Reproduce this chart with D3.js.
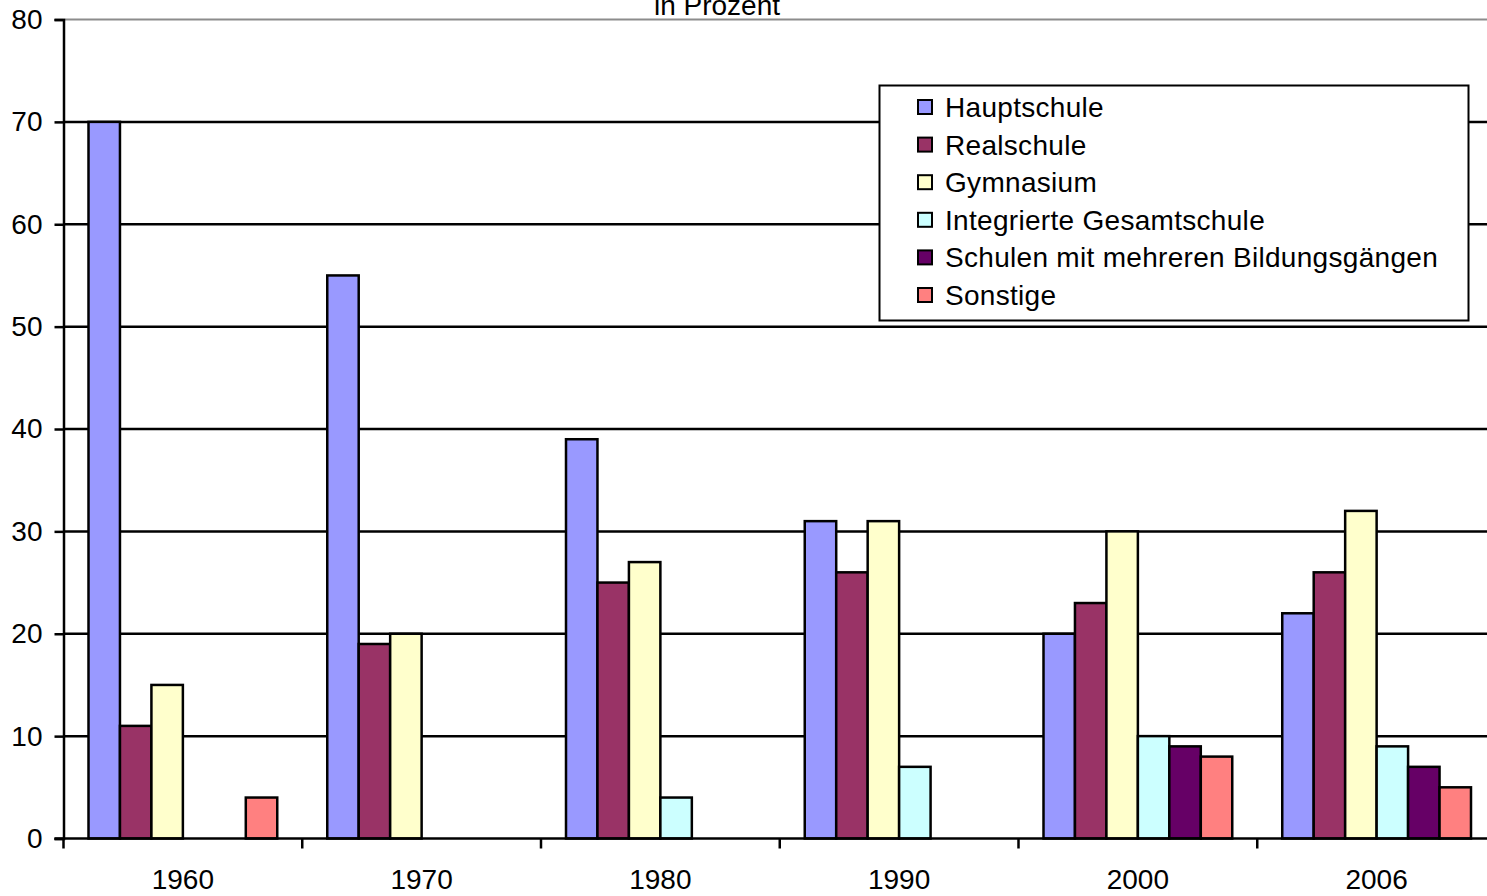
<!DOCTYPE html>
<html>
<head>
<meta charset="utf-8">
<script src="https://cdn.jsdelivr.net/npm/d3@7/dist/d3.min.js"></script>
<style>
  html, body { margin: 0; padding: 0; background: #fff; overflow: hidden; }
  svg { display: block; font-family: "Liberation Sans", Arial, sans-serif; }
</style>
</head>
<body>
<svg id="chart" width="1487" height="896"></svg>
<script>
// Schülerinnen und Schüler in der 8. Klassenstufe nach Schulart, in Prozent
const years = ["1960", "1970", "1980", "1990", "2000", "2006"];
const seriesNames = [
  "Hauptschule",
  "Realschule",
  "Gymnasium",
  "Integrierte Gesamtschule",
  "Schulen mit mehreren Bildungsgängen",
  "Sonstige"
];
const seriesColors = ["#9999FF", "#993366", "#FFFFCC", "#CCFFFF", "#660066", "#FF8080"];
// one row per series, one value per year (null = no value)
const hauptschule   = [70, 55, 39, 31, 20, 22];
const realschule    = [11, 19, 25, 26, 23, 26];
const gymnasium     = [15, 20, 27, 31, 30, 32];
const gesamtschule  = [null, null, 4, 7, 10, 9];
const mehrereGaenge = [null, null, null, null, 9, 7];
const sonstige      = [4, null, null, null, 8, 5];
const yTicks = [0, 10, 20, 30, 40, 50, 60, 70, 80];
const chartTitle = "in Prozent";

const seriesValues = [hauptschule, realschule, gymnasium, gesamtschule, mehrereGaenge, sonstige];

const svg = d3.select("#chart");
const plotLeft = 63.5, plotTop = 19.5, plotBottom = 838.5, plotRight = 1496;
const fontSize = 28;

const x = d3.scaleBand().domain(years).range([plotLeft, plotRight]).padding(0);
const bandPad = 25;
const xs = d3.scaleBand().domain(seriesNames)
  .range([bandPad, x.bandwidth() - bandPad]).padding(0);
const y = d3.scaleLinear().domain([0, 80]).range([plotBottom, plotTop]);

// horizontal gridlines
svg.append("g").selectAll("line").data(yTicks.filter(d => d > 0)).join("line")
  .attr("x1", plotLeft).attr("x2", plotRight)
  .attr("y1", d => y(d)).attr("y2", d => y(d))
  .attr("stroke", d => d === 80 ? "#8c8c8c" : "#000")
  .attr("stroke-width", d => d === 80 ? 2 : 2.5);

// title (partially above the frame)
svg.append("text").attr("x", 717).attr("y", 15)
  .attr("text-anchor", "middle").attr("font-size", fontSize).attr("fill", "#000")
  .text(chartTitle);

// bars
const rows = [];
seriesNames.forEach((name, si) => {
  years.forEach((yr, yi) => {
    const v = seriesValues[si][yi];
    if (v != null) rows.push({ name, yr, v, color: seriesColors[si] });
  });
});
svg.append("g").selectAll("rect").data(rows).join("rect")
  .attr("x", d => x(d.yr) + xs(d.name))
  .attr("width", xs.bandwidth())
  .attr("y", d => y(d.v))
  .attr("height", d => y(0) - y(d.v))
  .attr("fill", d => d.color)
  .attr("stroke", "#000")
  .attr("stroke-width", 2.5);

// y axis
const yAxis = svg.append("g").attr("transform", `translate(${plotLeft},0)`)
  .call(d3.axisLeft(y).tickValues(yTicks).tickSize(9).tickPadding(12).tickFormat(d3.format("d")));
yAxis.select(".domain").attr("stroke", "#000").attr("stroke-width", 2.5);
yAxis.selectAll(".tick line").attr("stroke", "#000").attr("stroke-width", 2.5);
yAxis.selectAll(".tick text").attr("font-size", fontSize).attr("fill", "#000")
  .attr("font-family", "Liberation Sans, Arial, sans-serif");

// x axis with ticks at the category boundaries
const xAxisG = svg.append("g").attr("transform", `translate(0,${plotBottom})`);
xAxisG.append("line").attr("x1", plotLeft - 9).attr("x2", plotRight)
  .attr("stroke", "#000").attr("stroke-width", 2.5);
xAxisG.selectAll("line.tk").data(years).join("line").attr("class", "tk")
  .attr("x1", d => x(d)).attr("x2", d => x(d))
  .attr("y1", 0).attr("y2", 10)
  .attr("stroke", "#000").attr("stroke-width", 2.5);
xAxisG.selectAll("text").data(years).join("text")
  .attr("x", d => x(d) + x.bandwidth() / 2)
  .attr("y", 50)
  .attr("text-anchor", "middle").attr("font-size", fontSize).attr("fill", "#000")
  .text(d => d);

// legend
const lg = svg.append("g");
lg.append("rect").attr("x", 879.5).attr("y", 85.5).attr("width", 589).attr("height", 235)
  .attr("fill", "#fff").attr("stroke", "#000").attr("stroke-width", 2);
const items = lg.selectAll("g.item").data(seriesNames).join("g").attr("class", "item")
  .attr("transform", (d, i) => `translate(0,${107 + i * 37.6})`);
items.append("rect").attr("x", 918).attr("y", -7).attr("width", 14).attr("height", 14)
  .attr("fill", (d, i) => seriesColors[i]).attr("stroke", "#000").attr("stroke-width", 2);
items.append("text").attr("x", 945).attr("y", 10)
  .attr("font-size", fontSize).attr("letter-spacing", 0.3).attr("fill", "#000").text(d => d);
</script>
</body>
</html>
